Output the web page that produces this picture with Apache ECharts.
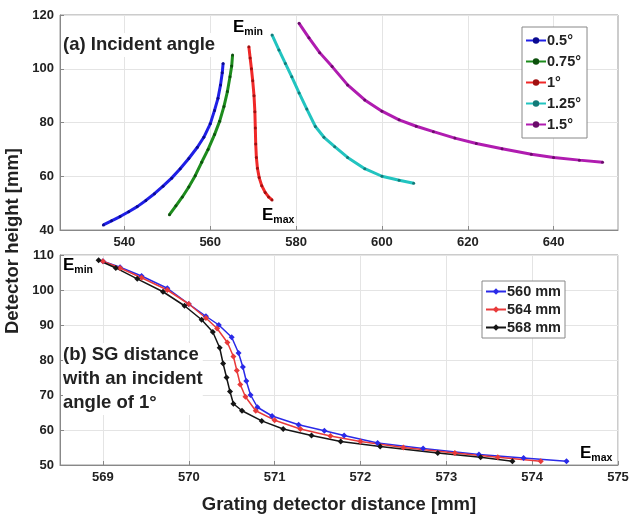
<!DOCTYPE html>
<html><head><meta charset="utf-8">
<script src="https://cdn.jsdelivr.net/npm/echarts@6/dist/echarts.min.js"></script>
<style>html,body{margin:0;padding:0;background:#fff}#c{width:633px;height:515px}</style>
</head><body><div id="c"></div>
<script>
// ---- Data (a) incident angle: [grating detector distance, detector height]
const names_a = ['0.5°', '0.75°', '1°', '1.25°', '1.5°'];
const a_05 = [[535.1,41.9],[537,43.4],[539,45],[541,46.8],[543,48.7],[545,51],[547,53.5],[549,56.3],[551,59.3],[553,62.8],[555,66.6],[557,70.8],[558.5,74.5],[560,79.5],[561,84.5],[561.8,89],[562.4,94],[562.8,98.5],[563.0,102]];
const a_075 = [[550.5,45.7],[552,49],[553.5,52.3],[555,56],[556.5,60.2],[558,65.2],[559.5,70],[561,75.5],[562.2,80.5],[563.2,86],[564,91.5],[564.6,97],[565,101],[565.2,105.1]];
const a_1 = [[569.0,108.2],[569.3,104],[569.6,100],[569.9,95.5],[570.2,90],[570.4,84],[570.5,78],[570.6,72],[570.75,67],[571.0,63],[571.4,59.5],[572.0,56.5],[572.8,54],[573.6,52.3],[574.4,51.2]];
const a_125 = [[574.4,112.6],[576,107],[577.5,102],[579,97],[580.7,91],[582.5,85],[584.5,78.5],[586.5,74.5],[589,71],[592,67],[596,62.8],[600,60],[604,58.5],[607.4,57.4]];
const a_15 = [[580.7,116.9],[583,111.5],[585.5,106],[588.4,100.8],[592,94],[596,88.4],[600,84.2],[604,81],[608,78.6],[612,76.6],[617,74.2],[622,72.2],[628,70.2],[634.8,68.2],[640,67],[646,66],[651.4,65.2]];
// ---- Data (b) SG distance, incident angle 1°
const names_b = ['560 mm', '564 mm', '568 mm'];
const b_560 = [[569.0,108.2],[569.2,106.5],[569.45,104],[569.75,100.5],[570.0,96],[570.2,92.5],[570.35,90],[570.5,86.5],[570.58,82],[570.63,78],[570.67,74],[570.72,70],[570.8,66.5],[570.97,64],[571.28,61.5],[571.58,59.8],[571.81,58.4],[572.2,56.3],[572.73,54.7],[573.38,53],[573.9,52],[574.4,51.1]];
const b_564 = [[569.0,108.2],[569.2,106.3],[569.45,103.5],[569.75,100],[570.0,96],[570.2,92],[570.33,89],[570.45,85],[570.52,81],[570.56,77],[570.6,73],[570.66,69.5],[570.78,65.5],[571.0,62.8],[571.3,60.3],[571.65,58.3],[572.0,56.7],[572.5,55],[573.1,53.4],[573.6,52.2],[574.1,51.1]];
const b_568 = [[568.95,108.5],[569.15,106.3],[569.4,103.2],[569.7,99.5],[569.95,95.5],[570.15,91.5],[570.28,88],[570.36,83.5],[570.4,79],[570.44,75],[570.48,71],[570.52,67.5],[570.62,65.5],[570.85,62.6],[571.1,60.3],[571.43,58.4],[571.77,56.7],[572.23,55.3],[572.9,53.4],[573.4,52.2],[573.77,51.1]];
// ---- Tick labels
const xTicksA = [540, 560, 580, 600, 620, 640];
const xTicksB = [569, 570, 571, 572, 573, 574, 575];

const FONT = 'Liberation Sans, Arial, sans-serif';
const colorsA = ['#1f1fe6', '#1d8c1d', '#f02828', '#22c4c0', '#b01cb0'];
const markA = ['#0a0a90', '#0d500d', '#a01010', '#137a78', '#6a0c6a'];
const colorsB = ['#2a2ae8', '#e83a3a', '#151515'];
const dataA = [a_05, a_075, a_1, a_125, a_15];
const dataB = [b_560, b_564, b_568];

const labelStyle = {color:'#222', fontFamily:FONT, fontWeight:'bold', fontSize:13};
function xAxis(idx, min, max, ticks, name){
  return {type:'value', gridIndex:idx, min:min, max:max, name:name||'', nameLocation:'middle', nameGap:30,
    nameTextStyle:{color:'#222', fontFamily:FONT, fontWeight:'bold', fontSize:18.5},
    axisLine:{show:true, lineStyle:{color:'#888'}},
    axisTick:{show:true, inside:true, length:4, customValues:ticks, lineStyle:{color:'#888'}},
    axisLabel:Object.assign({customValues:ticks, margin:6}, labelStyle),
    splitLine:{show:true, lineStyle:{color:'#e4e4e4'}}};
}
function yAxis(idx, min, max, interval){
  return {type:'value', gridIndex:idx, min:min, max:max, interval:interval,
    axisLine:{show:true, lineStyle:{color:'#888'}},
    axisTick:{show:true, inside:true, length:4, lineStyle:{color:'#888'}},
    axisLabel:Object.assign({margin:6}, labelStyle),
    splitLine:{show:true, lineStyle:{color:'#e4e4e4'}}};
}
const series = [];
dataA.forEach((d,i)=>series.push({name:names_a[i], type:'line', xAxisIndex:0, yAxisIndex:0, data:d,
  symbol:'circle', symbolSize:3, showSymbol:true, smooth:false,
  lineStyle:{width:3, color:colorsA[i]}, itemStyle:{color:markA[i], borderWidth:0}, animation:false}));
dataB.forEach((d,i)=>series.push({name:names_b[i], type:'line', xAxisIndex:1, yAxisIndex:1, data:d,
  symbol:'diamond', symbolSize:6, showSymbol:true,
  lineStyle:{width:1.5, color:colorsB[i]}, itemStyle:{color:colorsB[i], borderWidth:0}, animation:false}));

function eLabel(x, y, s){
  return {type:'text', left:x, top:y, z:10, style:{text:'{E|E}{s|'+s+'}',
    rich:{E:{fontFamily:FONT, fontSize:17, fontWeight:'bold', color:'#222'},
          s:{fontFamily:FONT, fontSize:10.5, fontWeight:'bold', color:'#222', verticalAlign:'bottom', padding:[9,0,0,0]}}}};
}
const txt = (x,y,t,fs)=>({type:'text', left:x, top:y, z:10, style:{text:t, fontFamily:FONT, fontSize:fs, fontWeight:'bold', fill:'#222', lineHeight:24, backgroundColor:'#fff'}});

const chart = echarts.init(document.getElementById('c'), null, {renderer:'canvas'});
chart.setOption({
  backgroundColor:'#fff',
  animation:false,
  grid:[
    {left:60, top:15, width:558, height:215, show:true, borderColor:'#999', borderWidth:1, backgroundColor:'transparent'},
    {left:60, top:255, width:558, height:215, show:true, borderColor:'#999', borderWidth:1, backgroundColor:'transparent'}
  ],
  xAxis:[xAxis(0, 525, 655, xTicksA), xAxis(1, 568.5, 575, xTicksB, 'Grating detector distance [mm]')],
  yAxis:[yAxis(0, 40, 120, 20), yAxis(1, 50, 110, 10)],
  legend:[
    {data:names_a, orient:'vertical', left:522, top:27, itemWidth:20, itemHeight:8, itemGap:6,
      backgroundColor:'#fff', borderColor:'#888', borderWidth:1, padding:[6,6,6,3],
      textStyle:{fontFamily:FONT, fontWeight:'bold', fontSize:14.5, color:'#222', padding:[0,0,0,-4]}},
    {data:names_b, orient:'vertical', left:482, top:281, itemWidth:20, itemHeight:8, itemGap:3,
      backgroundColor:'#fff', borderColor:'#888', borderWidth:1, padding:[3,4,3,3],
      textStyle:{fontFamily:FONT, fontWeight:'bold', fontSize:14.5, color:'#222', padding:[0,0,0,-4]}}
  ],
  graphic:[
    {type:'text', left:3, top:148, rotation:Math.PI/2, style:{text:'Detector height [mm]', fontFamily:FONT, fontSize:18.5, fontWeight:'bold', fill:'#222'}},
    txt(63, 33, '(a) Incident angle', 18.5),
    eLabel(233, 19, 'min'),
    eLabel(262, 207, 'max'),
    eLabel(63, 257, 'min'),
    eLabel(580, 445, 'max'),
    txt(63, 343, '(b) SG distance\nwith an incident\nangle of 1°', 18.5)
  ],
  series:series
});
</script></body></html>
